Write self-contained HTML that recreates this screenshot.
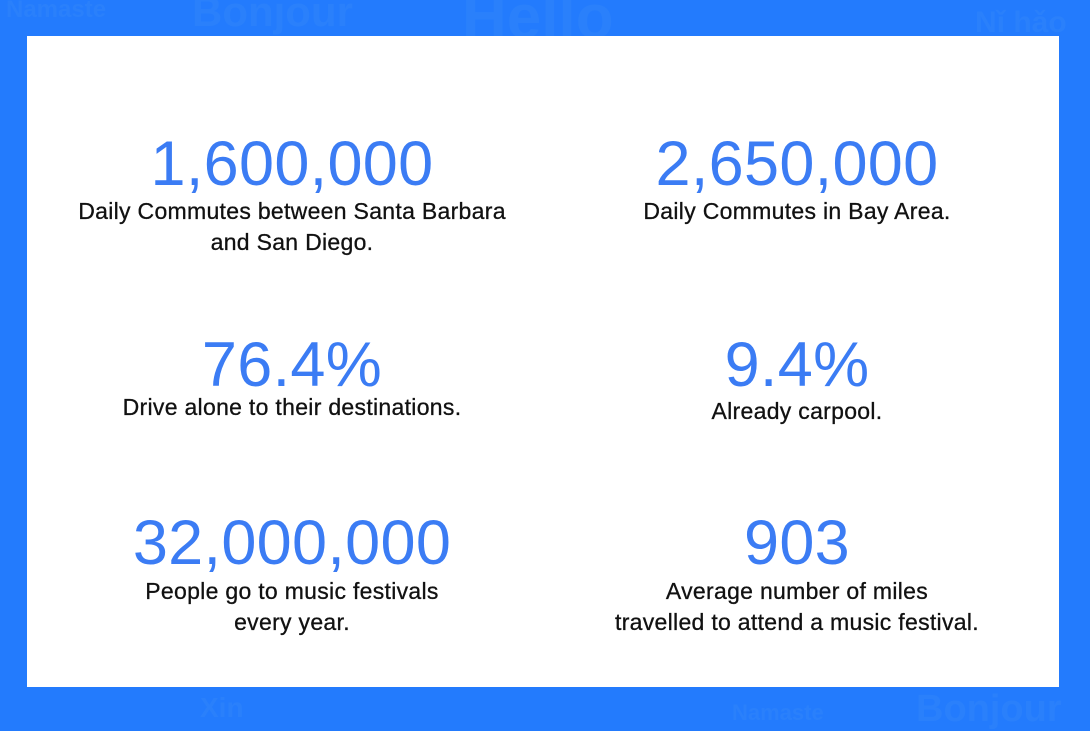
<!DOCTYPE html>
<html><head><meta charset="utf-8"><style>
body{margin:0;width:1090px;height:721px;background:#237bfd;position:relative;overflow:hidden;font-family:"Liberation Sans",sans-serif}
.bg{position:absolute;color:#2a80fb;font-weight:bold;white-space:nowrap}
#panel{position:absolute;left:27px;top:36px;width:1032px;height:651px;background:#fff}
.num{position:absolute;width:500px;text-align:center;color:#3b7cf4;font-size:63px;line-height:62px;letter-spacing:0.3px}
.cap{position:absolute;width:500px;text-align:center;color:#111;font-size:23px;line-height:31px;letter-spacing:0.3px;-webkit-text-stroke:0.3px #111}
</style></head><body>
<div class="bg" style="left:6px;top:-4px;font-size:24px">Namaste</div>
<div class="bg" style="left:192px;top:-12px;font-size:42px">Bonjour</div>
<div class="bg" style="left:462px;top:-18px;font-size:62px">Hello</div>
<div class="bg" style="left:975px;top:6px;font-size:30px">Nǐ hǎo</div>
<div class="bg" style="left:200px;top:692px;font-size:28px">Xin</div>
<div class="bg" style="left:732px;top:700px;font-size:22px">Namaste</div>
<div class="bg" style="left:916px;top:688px;font-size:38px">Bonjour</div>
<div id="panel">
<div class="num" style="left:15px;top:97px">1,600,000</div>
<div class="cap" style="left:15px;top:160px">Daily Commutes between Santa Barbara<br>and San Diego.</div>
<div class="num" style="left:520px;top:97px">2,650,000</div>
<div class="cap" style="left:520px;top:160px">Daily Commutes in Bay Area.</div>
<div class="num" style="left:15px;top:298px">76.4%</div>
<div class="cap" style="left:15px;top:356px">Drive alone to their destinations.</div>
<div class="num" style="left:520px;top:298px">9.4%</div>
<div class="cap" style="left:520px;top:360px">Already carpool.</div>
<div class="num" style="left:15px;top:476px">32,000,000</div>
<div class="cap" style="left:15px;top:540px">People go to music festivals<br>every year.</div>
<div class="num" style="left:520px;top:476px">903</div>
<div class="cap" style="left:520px;top:540px">Average number of miles<br>travelled to attend a music festival.</div>
</div>
</body></html>
